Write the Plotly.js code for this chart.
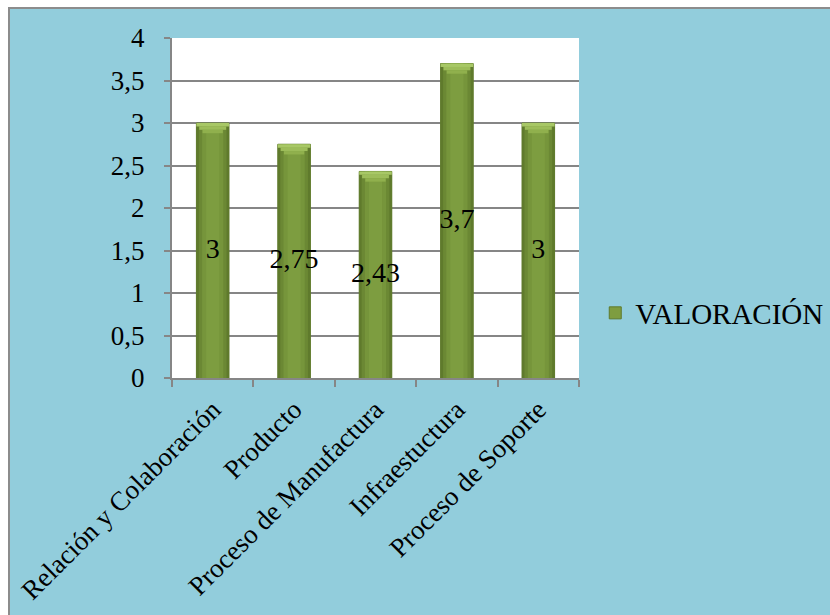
<!DOCTYPE html>
<html>
<head>
<meta charset="utf-8">
<script src="https://cdn.plot.ly/plotly-3.0.1.min.js"></script>
<style>
  html, body { margin: 0; padding: 0; background: #ffffff; }
  #frame {
    position: absolute; left: 8px; top: 7px;
    width: 822px; height: 608px;
    border-left: 2px solid #8c8c8c; border-top: 2px solid #8c8c8c;
    background: #92cddc;
  }
  #chart { width: 822px; height: 608px; }
</style>
</head>
<body>
<div id="frame"><div id="chart"></div></div>
<script>
// Valoración por área
const categories = [
  "Relación y Colaboración",
  "Producto",
  "Proceso de Manufactura",
  "Infraestuctura",
  "Proceso de Soporte"
];
const valoracion = [3, 2.75, 2.43, 3.7, 3];
const yTicks = [0, 0.5, 1, 1.5, 2, 2.5, 3, 3.5, 4];
const seriesName = "VALORACIÓN";

const serif = "Liberation Serif, Times New Roman, serif";
const fmt = v => String(v).replace(".", ",");

// Layered bars give the cylinder-like shading of each column
const shade = (w, color, extra) => Object.assign({
  type: "bar", x: categories, y: valoracion, width: w,
  marker: { color: color, line: { width: 0 } },
  hoverinfo: "skip", showlegend: false
}, extra || {});

// Bevelled top: stacked bands that narrow downward
const bevel = (offTop, depth, w, color) => ({
  type: "bar", x: categories, y: valoracion.map(() => depth),
  base: valoracion.map(v => v - offTop - depth), width: w,
  marker: { color: color, line: { width: 0 } },
  hoverinfo: "skip", showlegend: false
});

const traces = [
  shade(0.40, "#5f7a2c", { name: seriesName, showlegend: true,
    marker: { color: "#7e9d40", line: { color: "#5f7a2c", width: 1 } } }),
  shade(0.40, "#5f7a2c"),
  shade(0.34, "#6b8834"),
  shade(0.26, "#76953b"),
  shade(0.16, "#7d9d40"),
  bevel(0.00, 0.04, 0.40, "#a8c866"),
  bevel(0.04, 0.04, 0.33, "#9dbd5a"),
  bevel(0.08, 0.04, 0.25, "#90b04d"),
  // value labels at the middle of each column
  {
    type: "scatter", mode: "text", x: categories,
    y: valoracion.map(v => v / 2), text: valoracion.map(fmt),
    textposition: "middle center",
    textfont: { family: serif, size: 28, color: "#000000" },
    hoverinfo: "skip", showlegend: false, cliponaxis: false
  }
];

const layout = {
  width: 822, height: 608,
  paper_bgcolor: "#92cddc", plot_bgcolor: "#ffffff",
  margin: { l: 162, r: 253, t: 29, b: 239 },
  barmode: "overlay",
  separators: ",.",
  font: { family: serif, size: 28, color: "#000000" },
  xaxis: {
    type: "category", tickangle: -45, automargin: false,
    showline: true, linecolor: "#868686", linewidth: 2,
    ticks: "outside", tickson: "boundaries", ticklen: 7, tickwidth: 2, tickcolor: "#868686",
    showgrid: false, ticklabelstandoff: 3,
    tickfont: { family: serif, size: 27, color: "#000000" }
  },
  yaxis: {
    range: [0, 4], tickvals: yTicks, ticktext: yTicks.map(fmt), automargin: false,
    showline: true, linecolor: "#868686", linewidth: 2,
    ticks: "outside", ticklen: 6, tickwidth: 2, tickcolor: "#868686",
    showgrid: true, gridcolor: "#868686", gridwidth: 2, zeroline: false,
    ticklabelstandoff: 14,
    tickfont: { family: serif, size: 27, color: "#000000" }
  },
  legend: {
    xref: "container", yref: "container",
    x: 0.712, xanchor: "left", y: 0.5, yanchor: "middle",
    bgcolor: "rgba(0,0,0,0)", itemwidth: 30,
    font: { family: serif, size: 29, color: "#000000" }
  },
  showlegend: true
};

Plotly.newPlot("chart", traces, layout, { displayModeBar: false, staticPlot: true });
</script>
</body>
</html>
